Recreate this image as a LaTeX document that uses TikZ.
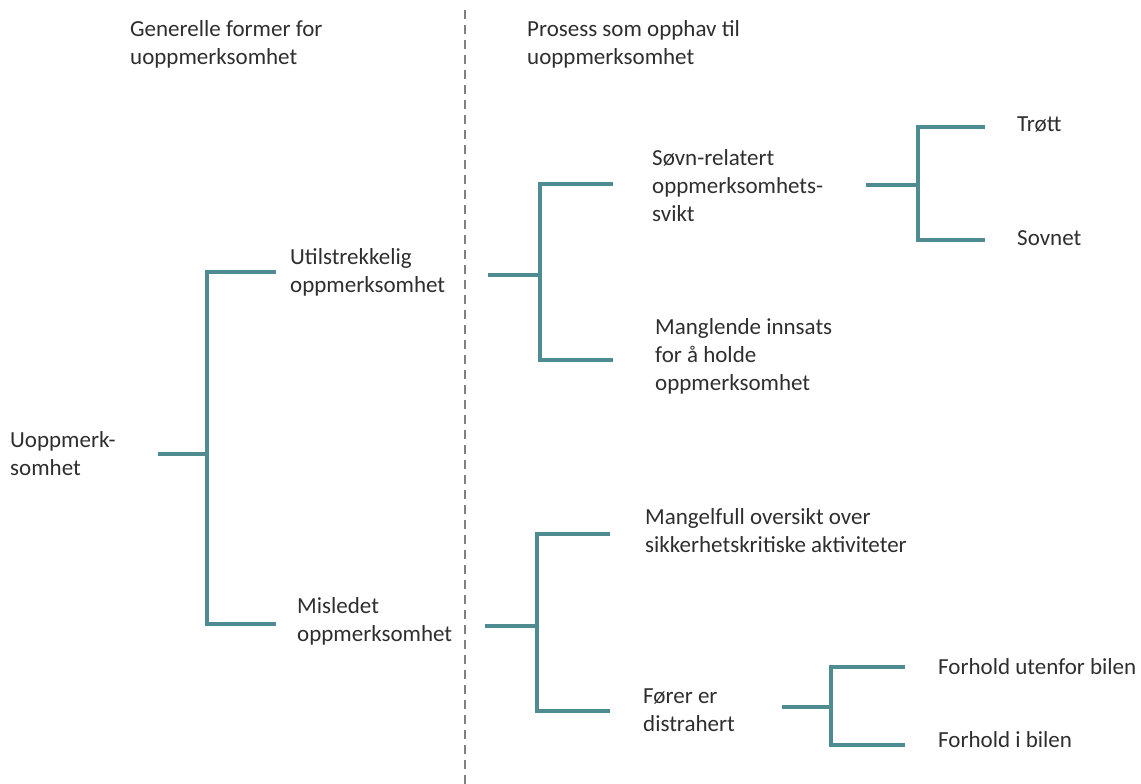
\documentclass[tikz,border=0pt]{standalone}
\usepackage{fontspec}
\setmainfont{Carlito}
\definecolor{brteal}{HTML}{4E8C91}
\definecolor{txt}{HTML}{2E2E2E}
\definecolor{dashgray}{HTML}{808080}
\begin{document}
\begin{tikzpicture}[x=1pt,y=-1pt,
  lbl/.style={anchor=west,align=left,inner sep=0pt,text=txt,
    font=\fontsize{23}{28}\selectfont},
  hdr/.style={anchor=west,align=left,inner sep=0pt,text=txt,
    font=\fontsize{23}{28}\selectfont},
  br/.style={draw=brteal,line width=3.6pt,line cap=butt,line join=miter}]
\useasboundingbox (0,0) rectangle (1141,784);
\draw[dashgray,line width=2.5pt,dash pattern=on 9pt off 6pt] (465,10) -- (465,784);
% headers
\node[hdr] (h1) at (130,44) {Generelle former for\\uoppmerksomhet};
\node[hdr] (h2) at (527,44) {Prosess som opphav til\\uoppmerksomhet};
% labels
\node[lbl] (root) at (10,454) {Uoppmerk-\\somhet};
\node[lbl] (util) at (290,272) {Utilstrekkelig\\oppmerksomhet};
\node[lbl] (misl) at (297,621) {Misledet\\oppmerksomhet};
\node[lbl] (sovn) at (652,186) {Søvn-relatert\\oppmerksomhets-\\svikt};
\node[lbl] (mang) at (655,356) {Manglende innsats\\for å holde\\oppmerksomhet};
\node[lbl] (trott) at (1017,125) {Trøtt};
\node[lbl] (sovnet) at (1017,238) {Sovnet};
\node[lbl] (oversikt) at (645,531) {Mangelfull oversikt over\\sikkerhetskritiske aktiviteter};
\node[lbl] (forer) at (643,710) {Fører er\\distrahert};
\node[lbl] (utenfor) at (938,667) {Forhold utenfor bilen};
\node[lbl] (ibilen) at (938,740) {Forhold i bilen};
% bracket coordinates
\coordinate (a0) at (158,454); \coordinate (a1) at (276,272); \coordinate (a2) at (276,624);
\coordinate (b0) at (488,275); \coordinate (b1) at (613,184); \coordinate (b2) at (613,360);
\coordinate (c0) at (866,185); \coordinate (c1) at (985,127); \coordinate (c2) at (985,240);
\coordinate (d0) at (485,626); \coordinate (d1) at (610,534); \coordinate (d2) at (610,711);
\coordinate (e0) at (782,707); \coordinate (e1) at (905,667); \coordinate (e2) at (905,745);
% brackets
\draw[br] (a0) -- (207,454);
\draw[br] (a1) -- (207,272) -- (207,624) -- (a2);
\draw[br] (b0) -- (540,275);
\draw[br] (b1) -- (540,184) -- (540,360) -- (b2);
\draw[br] (c0) -- (918,185);
\draw[br] (c1) -- (918,127) -- (918,240) -- (c2);
\draw[br] (d0) -- (537,626);
\draw[br] (d1) -- (537,534) -- (537,711) -- (d2);
\draw[br] (e0) -- (831,707);
\draw[br] (e1) -- (831,667) -- (831,745) -- (e2);
\end{tikzpicture}
\end{document}
